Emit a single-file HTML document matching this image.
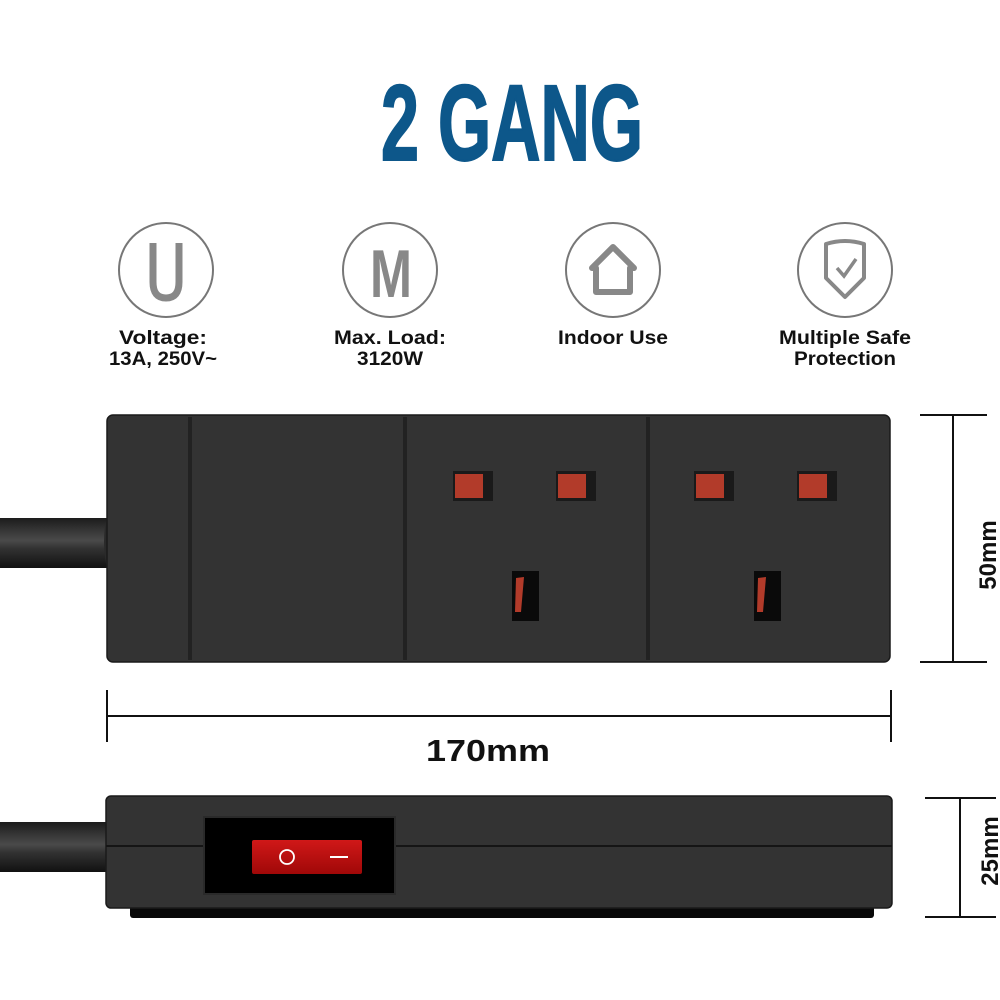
<!DOCTYPE html>
<html><head><meta charset="utf-8"><style>
html,body{margin:0;padding:0;background:#fff}
svg{display:block}
text{font-family:"Liberation Sans",sans-serif}
</style></head><body>
<svg width="1000" height="1000" viewBox="0 0 1000 1000" xmlns="http://www.w3.org/2000/svg">
<defs>
<linearGradient id="cab" x1="0" y1="0" x2="0" y2="1">
<stop offset="0" stop-color="#1c1c1c"/><stop offset="0.45" stop-color="#4a4a4a"/><stop offset="0.6" stop-color="#333"/><stop offset="1" stop-color="#111"/>
</linearGradient>
<linearGradient id="rock" x1="0" y1="0" x2="0" y2="1">
<stop offset="0" stop-color="#d01818"/><stop offset="1" stop-color="#a00808"/>
</linearGradient>
</defs>
<rect width="1000" height="1000" fill="#fff"/>
<text x="381" y="160" font-size="108" font-weight="bold" fill="#0d578a" stroke="#0d578a" stroke-width="2" textLength="262" lengthAdjust="spacingAndGlyphs">2 GANG</text>

<g fill="none" stroke="#777" stroke-width="2">
<ellipse cx="166" cy="270" rx="47" ry="47"/>
<ellipse cx="390" cy="270" rx="47" ry="47"/>
<ellipse cx="613" cy="270" rx="47" ry="47"/>
<ellipse cx="845" cy="270" rx="47" ry="47"/>
</g>
<path d="M153 243 V282 Q153 298 166 298 Q179 298 179 282 V243" fill="none" stroke="#888" stroke-width="7"/>
<text x="391" y="297" font-size="68" font-weight="bold" fill="#888" text-anchor="middle" textLength="42" lengthAdjust="spacingAndGlyphs">M</text>
<path d="M592 268 L613 247 L634 268 L630 268 L630 292 L596 292 L596 268 Z" fill="none" stroke="#888" stroke-width="6" stroke-linejoin="round"/>
<path d="M826 244 Q845 238 864 244 V278 L845 297 L826 278 Z" fill="none" stroke="#888" stroke-width="4" stroke-linejoin="round"/>
<path d="M837 268 L844 276 L856 259" fill="none" stroke="#888" stroke-width="3.5"/>

<g font-size="19" font-weight="bold" fill="#111" text-anchor="middle">
<text x="163" y="344" textLength="88" lengthAdjust="spacingAndGlyphs">Voltage:</text>
<text x="163" y="365" textLength="108" lengthAdjust="spacingAndGlyphs">13A, 250V~</text>
<text x="390" y="344" textLength="112" lengthAdjust="spacingAndGlyphs">Max. Load:</text>
<text x="390" y="365" textLength="66" lengthAdjust="spacingAndGlyphs">3120W</text>
<text x="613" y="344" textLength="110" lengthAdjust="spacingAndGlyphs">Indoor Use</text>
<text x="845" y="344" textLength="132" lengthAdjust="spacingAndGlyphs">Multiple Safe</text>
<text x="845" y="365" textLength="102" lengthAdjust="spacingAndGlyphs">Protection</text>
</g>

<!-- top strip -->
<rect x="0" y="518" width="108" height="50" fill="url(#cab)"/>
<path d="M108 512 Q100 542 108 572 Z" fill="#2a2a2a"/>
<rect x="107" y="415" width="783" height="247" rx="6" fill="#333" stroke="#1a1a1a" stroke-width="1.5"/>
<g stroke="#222" stroke-width="4">
<line x1="190" y1="417" x2="190" y2="660"/>
<line x1="405" y1="417" x2="405" y2="660"/>
<line x1="648" y1="417" x2="648" y2="660"/>
</g>
<g>
<rect x="453" y="471" width="40" height="30" fill="#1a1a1a"/><rect x="455" y="474" width="28" height="24" fill="#b23b2a"/>
<rect x="556" y="471" width="40" height="30" fill="#1a1a1a"/><rect x="558" y="474" width="28" height="24" fill="#b23b2a"/>
<rect x="512" y="571" width="27" height="50" fill="#0a0a0a"/><path d="M516 578 L524 577 L521 612 L515 612 Z" fill="#b23b2a"/>
<rect x="694" y="471" width="40" height="30" fill="#1a1a1a"/><rect x="696" y="474" width="28" height="24" fill="#b23b2a"/>
<rect x="797" y="471" width="40" height="30" fill="#1a1a1a"/><rect x="799" y="474" width="28" height="24" fill="#b23b2a"/>
<rect x="754" y="571" width="27" height="50" fill="#0a0a0a"/><path d="M758 578 L766 577 L763 612 L757 612 Z" fill="#b23b2a"/>
</g>

<!-- dimensions -->
<g stroke="#111" stroke-width="2">
<line x1="953" y1="415" x2="953" y2="662"/>
<line x1="920" y1="415" x2="987" y2="415"/>
<line x1="920" y1="662" x2="987" y2="662"/>
<line x1="107" y1="716" x2="891" y2="716"/>
<line x1="107" y1="690" x2="107" y2="742"/>
<line x1="891" y1="690" x2="891" y2="742"/>
<line x1="960" y1="798" x2="960" y2="917"/>
<line x1="925" y1="798" x2="996" y2="798"/>
<line x1="925" y1="917" x2="996" y2="917"/>
</g>
<text x="488" y="761" font-size="31" font-weight="bold" fill="#111" text-anchor="middle" textLength="124" lengthAdjust="spacingAndGlyphs">170mm</text>
<text transform="translate(996,555) rotate(-90)" font-size="24" font-weight="bold" fill="#111" text-anchor="middle">50mm</text>
<text transform="translate(998,851) rotate(-90)" font-size="24" font-weight="bold" fill="#111" text-anchor="middle">25mm</text>

<!-- side view -->
<rect x="0" y="822" width="108" height="50" fill="url(#cab)"/>
<rect x="130" y="900" width="744" height="18" rx="3" fill="#080808"/>
<rect x="106" y="796" width="786" height="112" rx="5" fill="#333" stroke="#1a1a1a" stroke-width="1.5"/>
<line x1="106" y1="846" x2="892" y2="846" stroke="#151515" stroke-width="2"/>
<rect x="204" y="817" width="191" height="77" fill="#000" stroke="#2a2a2a" stroke-width="2"/>
<rect x="252" y="840" width="110" height="34" rx="2" fill="url(#rock)"/>
<circle cx="287" cy="857" r="7" fill="none" stroke="#fff" stroke-width="1.8"/>
<line x1="330" y1="857" x2="348" y2="857" stroke="#fff" stroke-width="2"/>
</svg>
</body></html>
